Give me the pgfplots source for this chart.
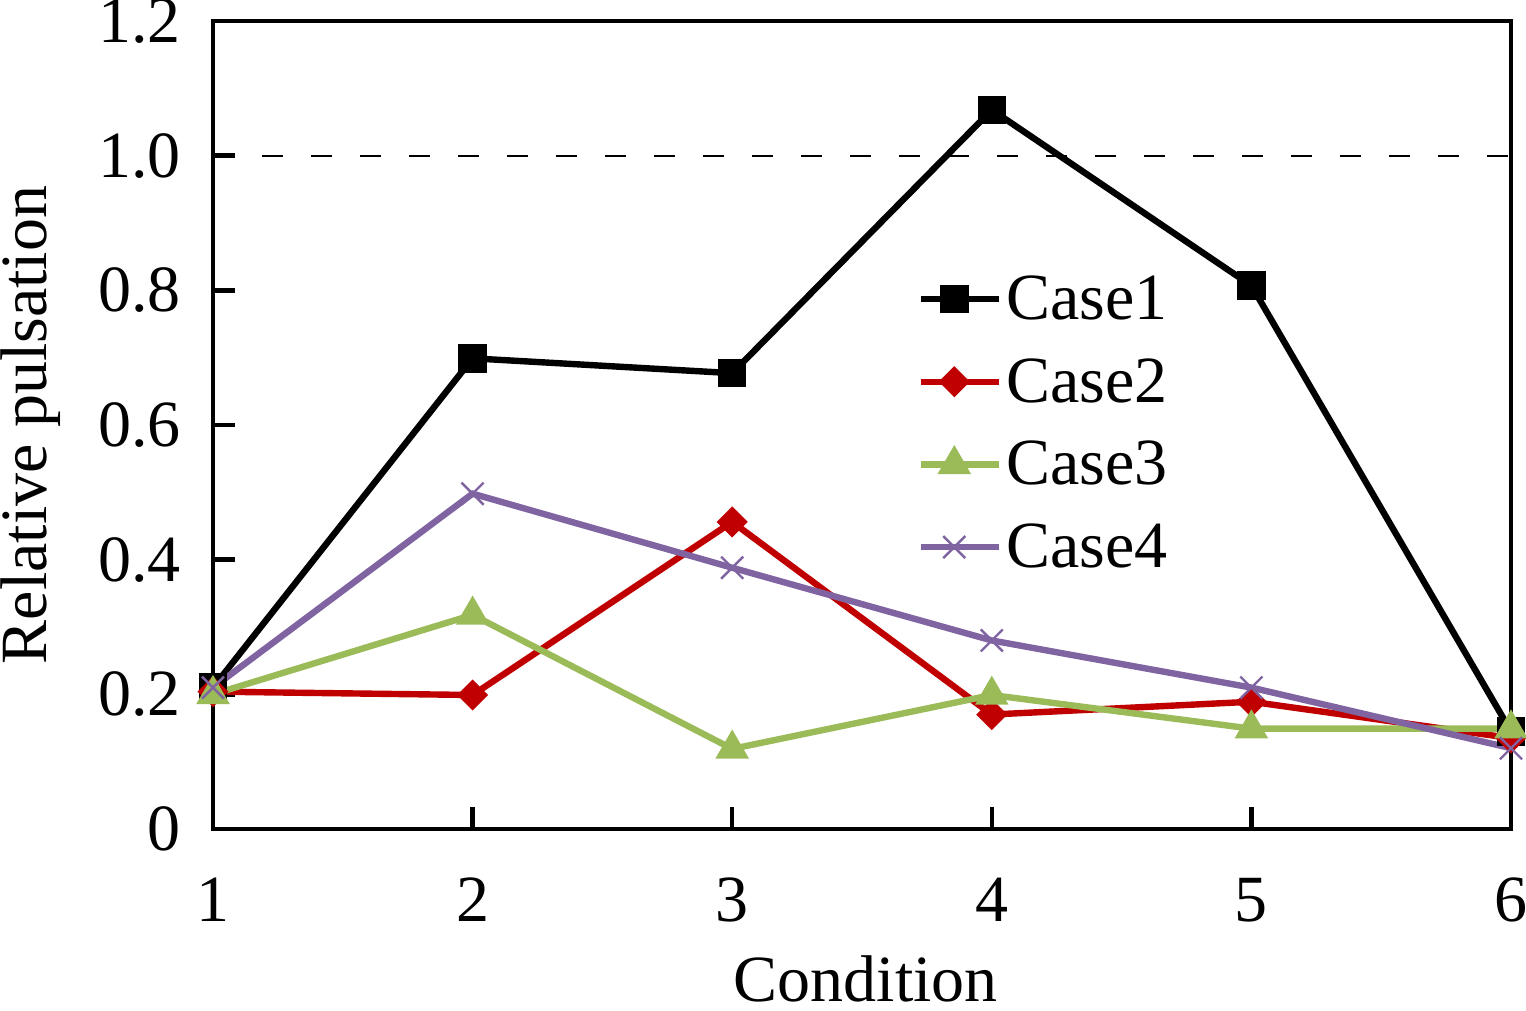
\documentclass[border=0pt]{standalone}
\usepackage{pgfplots}
\pgfplotsset{compat=1.18}
\usepackage{fontspec}
\setmainfont{Liberation Serif}
\definecolor{cred}{HTML}{C00000}
\definecolor{cgreen}{HTML}{9BBB59}
\definecolor{cpurple}{HTML}{8064A2}
\newcommand{\bigf}{\fontsize{33}{40}\selectfont}
\begin{document}
\begin{tikzpicture}
\useasboundingbox (-106.5pt,-91pt) rectangle (656.5pt,414.5pt);
\begin{axis}[
  at={(0,0)}, anchor=south west,
  scale only axis, width=649pt, height=404pt,
  xmin=1, xmax=6, ymin=0, ymax=1.2,
  xtick={1,2,3,4,5,6},
  ytick={0,0.2,0.4,0.6,0.8,1.0,1.2},
  yticklabels={0,0.2,0.4,0.6,0.8,1.0,1.2},
  xtick pos=bottom, ytick pos=left,
  tick align=inside,
  major tick length=11pt,
  every tick/.style={black, line width=2.2pt},
  axis line style={line width=2.2pt},
  /pgf/number format/assume math mode=true,
  ticklabel style={font=\bigf, inner sep=0pt},
  xticklabel style={anchor=base, yshift=-46.5pt},
  yticklabel style={anchor=east, xshift=-16pt},
  label style={font=\bigf, inner sep=0pt},
  xlabel={Condition},
  ylabel={Relative pulsation},
  xlabel style={at={(axis description cs:0.503,-0.2141)}, anchor=base},
  ylabel style={at={(axis description cs:-0.1279,0.5)}, anchor=base},
  clip=false,
  legend image code/.code={\path (0pt,0pt) -- (39pt,0pt);\draw[mark repeat=2,mark phase=2,#1] plot coordinates {(0pt,0pt) (16.5pt,0pt) (33pt,0pt)};},
  legend style={draw=none, fill=none, at={(rel axis cs:0.5383,0.6952)}, anchor=north west,
    font=\bigf, row sep=14pt, nodes={inner sep=2pt}},
  legend cell align=left,
]
\addplot[black, line width=1pt, dash pattern=on 10.5pt off 14pt, forget plot] coordinates {(1,1) (6,1)};
\addplot[black, line width=3.2pt, mark=square*, mark size=5.5pt, mark options={solid}] coordinates {
(1,0.21) (2,0.699) (3,0.677) (4,1.068) (5,0.807) (6,0.145)};
\addlegendentry{Case1}
\addplot[cred, line width=3.2pt, mark=square*, mark size=3.9pt, mark options={rotate=45}] coordinates {
(1,0.204) (2,0.199) (3,0.456) (4,0.170) (5,0.189) (6,0.135)};
\addlegendentry{Case2}
\addplot[cgreen, line width=3.2pt, mark=triangle*, mark size=6.5pt] coordinates {
(1,0.200) (2,0.318) (3,0.119) (4,0.199) (5,0.149) (6,0.149)};
\addlegendentry{Case3}
\addplot[cpurple, line width=3.2pt, mark=x, mark size=7.8pt, mark options={line width=1.2pt}] coordinates {
(1,0.210) (2,0.498) (3,0.388) (4,0.280) (5,0.210) (6,0.120)};
\addlegendentry{Case4}
\end{axis}
\end{tikzpicture}
\end{document}
